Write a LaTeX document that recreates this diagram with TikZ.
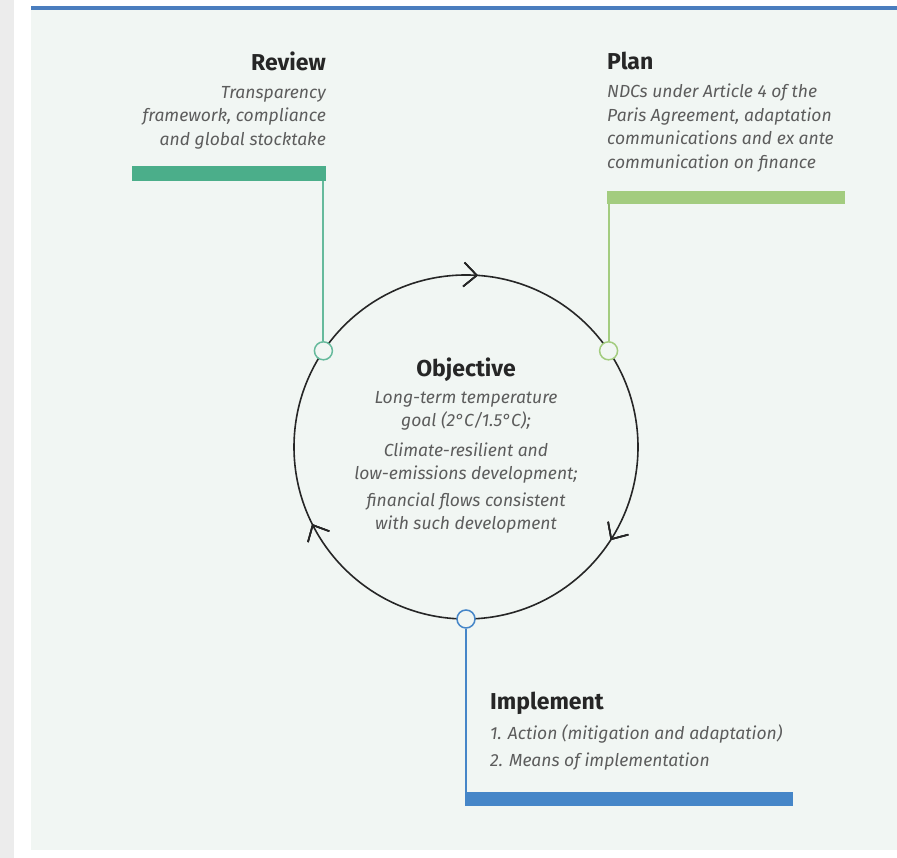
\documentclass[tikz,border=0pt]{standalone}
\usepackage{fontspec}
\setmainfont{Fira Sans}
\usetikzlibrary{decorations.markings}
\definecolor{panelbg}{HTML}{F1F6F3}
\definecolor{stripgray}{HTML}{ECECEC}
\definecolor{topblue}{HTML}{4A7DBE}
\definecolor{reviewgreen}{HTML}{4BAE8A}
\definecolor{plangreen}{HTML}{A3CC7F}
\definecolor{implblue}{HTML}{4686C8}
\definecolor{bodygray}{HTML}{5C5C5C}
\definecolor{titleblack}{HTML}{262626}
\begin{document}
\begin{tikzpicture}[x=1pt, y=1pt,
  title/.style={font=\fontsize{23}{27}\selectfont\bfseries, text=titleblack, inner sep=0pt},
  body/.style={font=\fontsize{17.5}{23.5}\selectfont\itshape, text=bodygray, inner sep=0pt},
  dot/.style={circle, draw=#1, fill=panelbg, line width=1.5pt, minimum size=18pt, inner sep=0pt},
  bar/.style={fill=#1, inner sep=0pt, outer sep=0pt},
  stem/.style={draw=#1, line width=2pt},
  chevron/.style={decoration={markings,
    mark=at position #1 with {\draw[line width=1.6pt, line join=miter] (-13pt,12pt) -- (0pt,0pt) -- (-13pt,-12pt);}},
    postaction={decorate}}]
\useasboundingbox (0,0) rectangle (897,858);
\fill[white] (0,0) rectangle (897,858);
\fill[stripgray] (0,0) rectangle (14,858);
\fill[panelbg] (31,8) rectangle (897,848);
\fill[topblue] (31,848) rectangle (897,852);
% cycle
\node[circle, minimum size=344pt, inner sep=0pt, outer sep=0pt] (cycle) at (466,411) {};
\draw[line width=1.6pt, black!85, chevron=0.26, chevron=0.59, chevron=0.925] (cycle.180) arc[start angle=180, end angle=-180, radius=172];
\node[title, anchor=base] (objtitle) at (466,481) {Objective};
\node[body, align=center, anchor=north] (objtext) at (466,467) {Long-term temperature\\goal (2°C/1.5°C);\\[6pt]Climate-resilient and\\low-emissions development;\\[3pt]financial flows consistent\\with such development};
% review
\node[bar=reviewgreen, minimum width=194pt, minimum height=15pt, anchor=north east] (revbar) at (326,692) {};
\node[title, anchor=base east] (revtitle) at (326,787) {Review};
\node[body, align=right, anchor=north east] (revtext) at (326,772) {Transparency\\framework, compliance\\and global stocktake};
\node[dot=reviewgreen!85] (revdot) at (cycle.146.4) {};
\draw[stem=reviewgreen!85] (revdot) -- (revdot |- revbar.south);
% plan
\node[bar=plangreen, minimum width=238pt, minimum height=13pt, anchor=north west] (planbar) at (607,667) {};
\node[title, anchor=base west] (plantitle) at (607,788) {Plan};
\node[body, align=left, anchor=north west] (plantext) at (607,774) {NDCs under Article 4 of the\\Paris Agreement, adaptation\\communications and ex ante\\communication on finance};
\node[dot=plangreen] (plandot) at (cycle.34.3) {};
\draw[stem=plangreen] (plandot) -- (plandot |- planbar.south);
% implement
\node[bar=implblue, minimum width=328pt, minimum height=14pt, anchor=north west] (implbar) at (465,66) {};
\node[title, anchor=base west] (impltitle) at (490,148) {Implement};
\node[body, align=left, anchor=north west] (impltext) at (490,134) {1. Action (mitigation and adaptation)\\[4pt]2. Means of implementation};
\node[dot=implblue] (impldot) at (cycle.270) {};
\draw[stem=implblue] (impldot) -- (impldot |- implbar.north);
\end{tikzpicture}
\end{document}
